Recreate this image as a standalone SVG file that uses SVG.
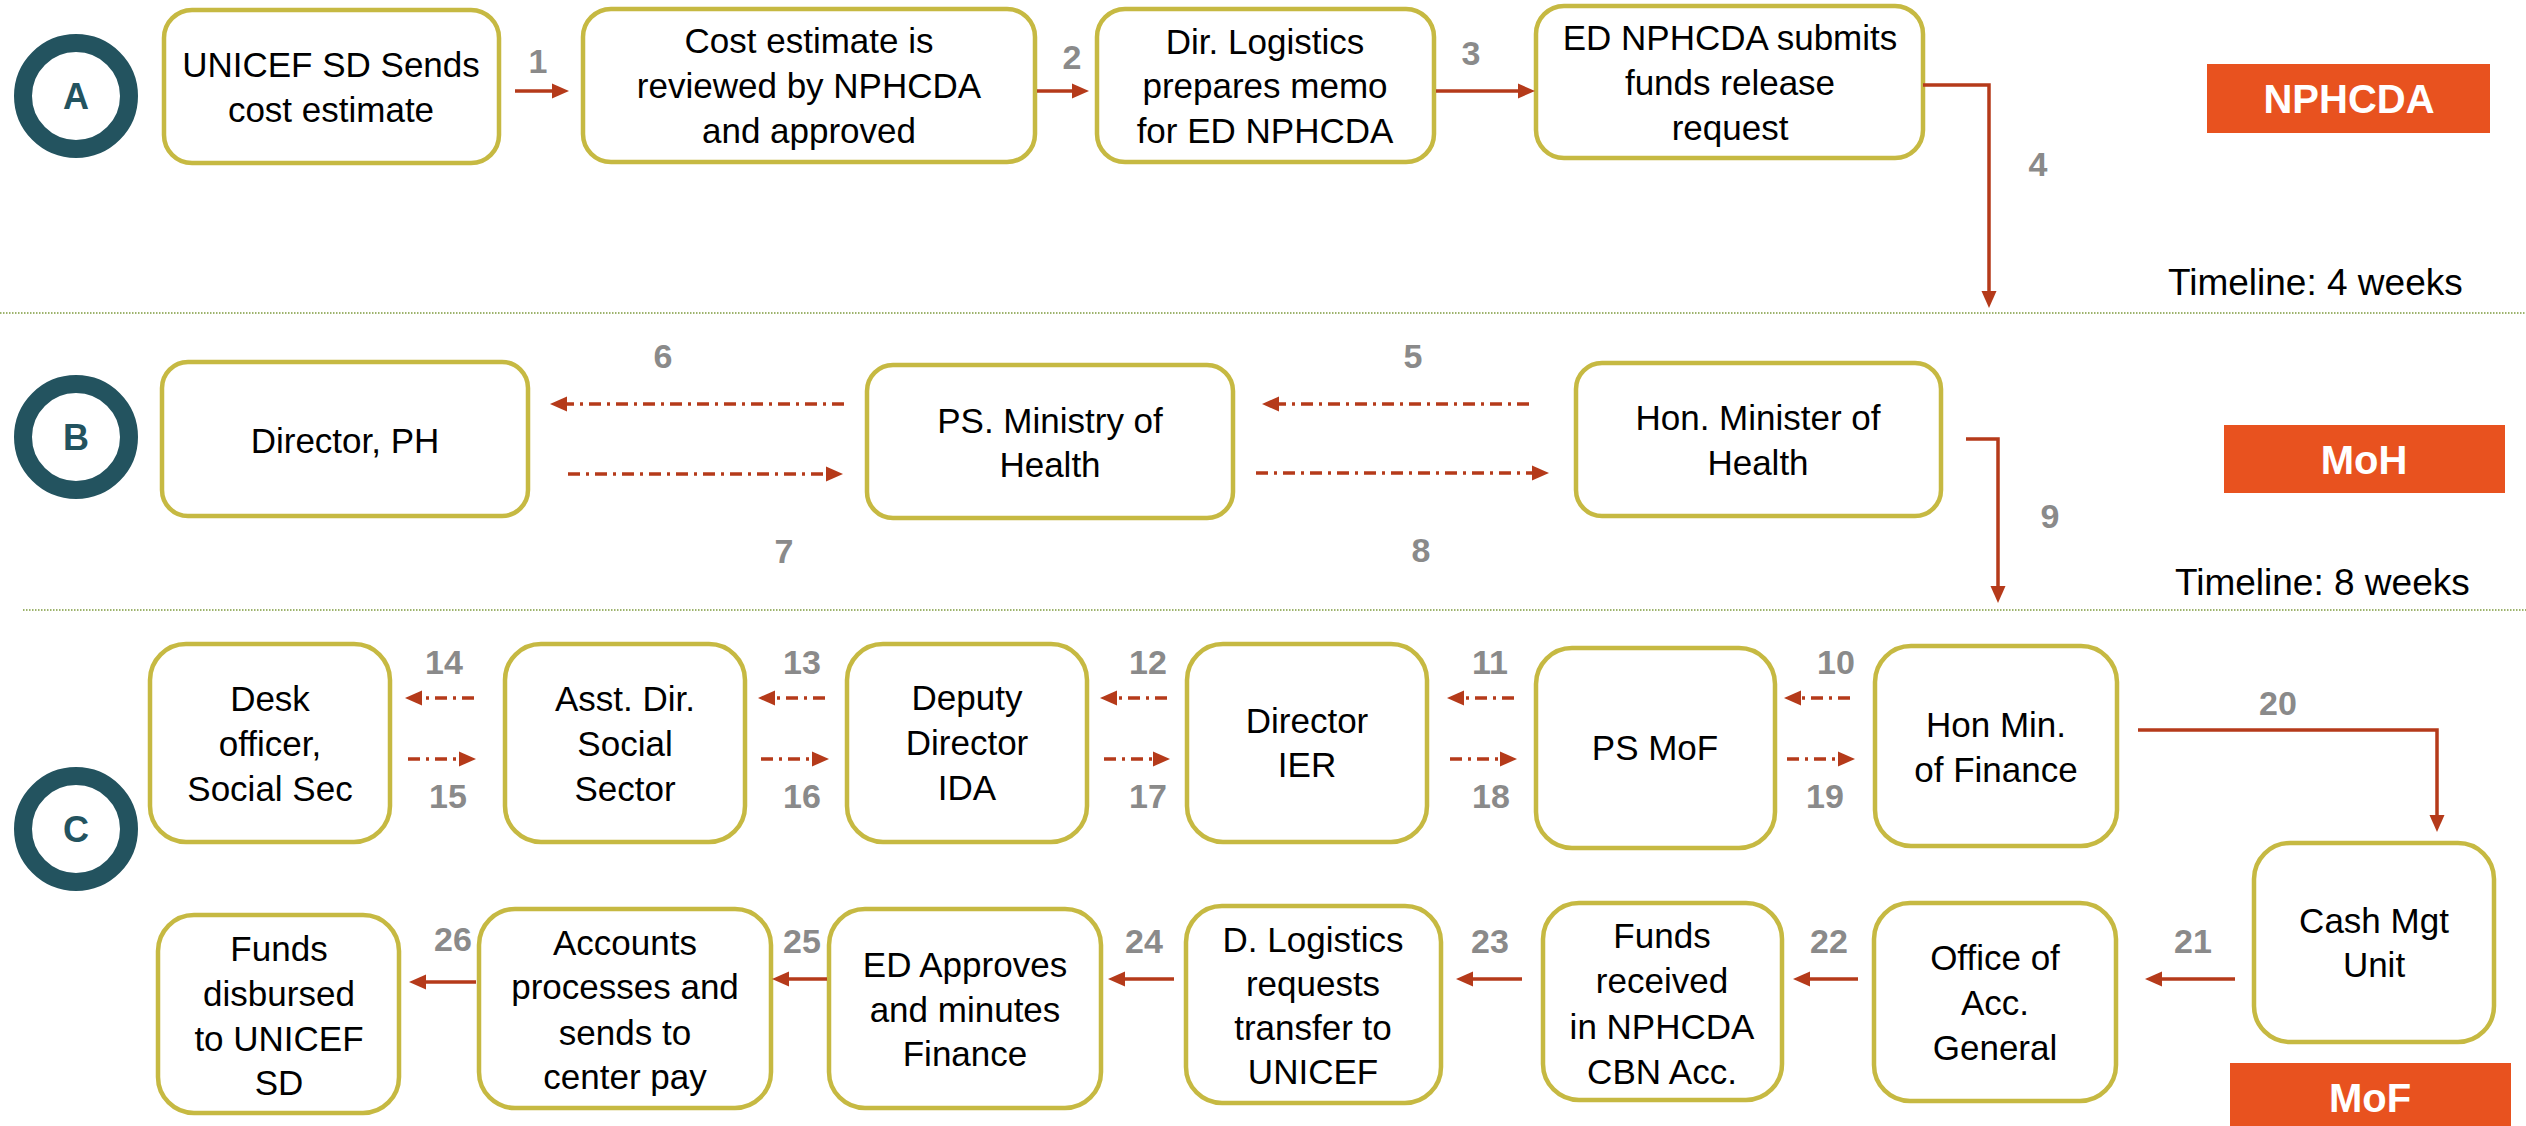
<svg xmlns="http://www.w3.org/2000/svg" width="2526" height="1126" viewBox="0 0 2526 1126">
<style>
.box{fill:#fff;stroke:#C6B942;stroke-width:4.5}
.t{font-family:"Liberation Sans",Arial,sans-serif;font-size:35px;fill:#000;text-anchor:middle}
.num{font-family:"Liberation Sans",Arial,sans-serif;font-size:34px;font-weight:bold;fill:#8A8A8A;text-anchor:middle}
.ring{fill:none;stroke:#23535F;stroke-width:18}
.letter{font-family:"Liberation Sans",Arial,sans-serif;font-size:36px;font-weight:bold;fill:#23535F;text-anchor:middle}
.tag{fill:#E8521F}
.tagt{font-family:"Liberation Sans",Arial,sans-serif;font-size:40px;font-weight:bold;fill:#fff;text-anchor:middle}
.tl{font-family:"Liberation Sans",Arial,sans-serif;font-size:37px;fill:#000}
.div{stroke:#7E9B3E;stroke-width:1.5;stroke-dasharray:1.5 1.5;fill:none}
.c{stroke:#B53A1A;stroke-width:3.5;fill:none;marker-end:url(#ah)}
.d{stroke:#B53A1A;stroke-width:3.5;fill:none;stroke-dasharray:12 6 3 6;marker-end:url(#ah)}
</style>
<defs>
<marker id="ah" markerUnits="userSpaceOnUse" markerWidth="18" markerHeight="16" refX="3" refY="8" orient="auto">
<path d="M0,0.5 L17,8 L0,15.5 z" fill="#B53A1A"/>
</marker>
</defs>
<rect width="2526" height="1126" fill="#fff"/>
<g id="dividers">
<line class="div" x1="0" y1="313" x2="2526" y2="313"/>
<line class="div" x1="23" y1="610" x2="2526" y2="610"/>
</g>
<g id="lane-A">
<circle class="ring" cx="76" cy="96" r="53"/>
<text class="letter" x="76" y="109">A</text>
</g>
<g id="lane-B">
<circle class="ring" cx="76" cy="437" r="53"/>
<text class="letter" x="76" y="450">B</text>
</g>
<g id="lane-C">
<circle class="ring" cx="76" cy="829" r="53"/>
<text class="letter" x="76" y="842">C</text>
</g>
<g id="tag-nphcda">
<rect class="tag" x="2207" y="64" width="283" height="69"/>
<text class="tagt" x="2349" y="113">NPHCDA</text>
<text class="tl" x="2168" y="295">Timeline: 4 weeks</text>
</g>
<g id="tag-moh">
<rect class="tag" x="2224" y="425" width="281" height="68"/>
<text class="tagt" x="2364" y="474">MoH</text>
<text class="tl" x="2175" y="595">Timeline: 8 weeks</text>
</g>
<g id="tag-mof">
<rect class="tag" x="2230" y="1063" width="281" height="63"/>
<text class="tagt" x="2370" y="1112">MoF</text>
</g>
<g id="n1">
<rect class="box" x="164" y="10" width="335" height="153" rx="28"/>
<text class="t" x="331" y="77">UNICEF SD Sends</text>
<text class="t" x="331" y="122">cost estimate</text>
</g>
<g id="n2">
<rect class="box" x="583" y="9" width="452" height="153" rx="28"/>
<text class="t" x="809" y="53">Cost estimate is</text>
<text class="t" x="809" y="98">reviewed by NPHCDA</text>
<text class="t" x="809" y="143">and approved</text>
</g>
<g id="n3">
<rect class="box" x="1097" y="9" width="337" height="153" rx="28"/>
<text class="t" x="1265" y="54">Dir. Logistics</text>
<text class="t" x="1265" y="98">prepares memo</text>
<text class="t" x="1265" y="143">for ED NPHCDA</text>
</g>
<g id="n4">
<rect class="box" x="1536" y="6" width="387" height="152" rx="28"/>
<text class="t" x="1730" y="50">ED NPHCDA submits</text>
<text class="t" x="1730" y="95">funds release</text>
<text class="t" x="1730" y="140">request</text>
</g>
<g id="n5">
<rect class="box" x="162" y="362" width="366" height="154" rx="26"/>
<text class="t" x="345" y="453">Director, PH</text>
</g>
<g id="n6">
<rect class="box" x="867" y="365" width="366" height="153" rx="26"/>
<text class="t" x="1050" y="433">PS. Ministry of</text>
<text class="t" x="1050" y="477">Health</text>
</g>
<g id="n7">
<rect class="box" x="1576" y="363" width="365" height="153" rx="26"/>
<text class="t" x="1758" y="430">Hon. Minister of</text>
<text class="t" x="1758" y="475">Health</text>
</g>
<g id="n8">
<rect class="box" x="150" y="644" width="240" height="198" rx="36"/>
<text class="t" x="270" y="711">Desk</text>
<text class="t" x="270" y="756">officer,</text>
<text class="t" x="270" y="801">Social Sec</text>
</g>
<g id="n9">
<rect class="box" x="505" y="644" width="240" height="198" rx="36"/>
<text class="t" x="625" y="711">Asst. Dir.</text>
<text class="t" x="625" y="756">Social</text>
<text class="t" x="625" y="801">Sector</text>
</g>
<g id="n10">
<rect class="box" x="847" y="644" width="240" height="198" rx="36"/>
<text class="t" x="967" y="710">Deputy</text>
<text class="t" x="967" y="755">Director</text>
<text class="t" x="967" y="800">IDA</text>
</g>
<g id="n11">
<rect class="box" x="1187" y="644" width="240" height="198" rx="36"/>
<text class="t" x="1307" y="733">Director</text>
<text class="t" x="1307" y="777">IER</text>
</g>
<g id="n12">
<rect class="box" x="1536" y="648" width="239" height="200" rx="36"/>
<text class="t" x="1655" y="760">PS MoF</text>
</g>
<g id="n13">
<rect class="box" x="1875" y="646" width="242" height="200" rx="36"/>
<text class="t" x="1996" y="737">Hon Min.</text>
<text class="t" x="1996" y="782">of Finance</text>
</g>
<g id="n14">
<rect class="box" x="2254" y="843" width="240" height="199" rx="36"/>
<text class="t" x="2374" y="933">Cash Mgt</text>
<text class="t" x="2374" y="977">Unit</text>
</g>
<g id="n15">
<rect class="box" x="1874" y="903" width="242" height="198" rx="36"/>
<text class="t" x="1995" y="970">Office of</text>
<text class="t" x="1995" y="1015">Acc.</text>
<text class="t" x="1995" y="1060">General</text>
</g>
<g id="n16">
<rect class="box" x="1543" y="903" width="239" height="197" rx="36"/>
<text class="t" x="1662" y="948">Funds</text>
<text class="t" x="1662" y="993">received</text>
<text class="t" x="1662" y="1039">in NPHCDA</text>
<text class="t" x="1662" y="1084">CBN Acc.</text>
</g>
<g id="n17">
<rect class="box" x="1186" y="906" width="255" height="197" rx="36"/>
<text class="t" x="1313" y="952">D. Logistics</text>
<text class="t" x="1313" y="996">requests</text>
<text class="t" x="1313" y="1040">transfer to</text>
<text class="t" x="1313" y="1084">UNICEF</text>
</g>
<g id="n18">
<rect class="box" x="829" y="909" width="272" height="199" rx="36"/>
<text class="t" x="965" y="977">ED Approves</text>
<text class="t" x="965" y="1022">and minutes</text>
<text class="t" x="965" y="1066">Finance</text>
</g>
<g id="n19">
<rect class="box" x="479" y="909" width="292" height="199" rx="36"/>
<text class="t" x="625" y="955">Accounts</text>
<text class="t" x="625" y="999">processes and</text>
<text class="t" x="625" y="1045">sends to</text>
<text class="t" x="625" y="1089">center pay</text>
</g>
<g id="n20">
<rect class="box" x="158" y="915" width="241" height="198" rx="36"/>
<text class="t" x="279" y="961">Funds</text>
<text class="t" x="279" y="1006">disbursed</text>
<text class="t" x="279" y="1051">to UNICEF</text>
<text class="t" x="279" y="1095">SD</text>
</g>
<g id="connectors">
<line class="c" x1="515" y1="91" x2="555" y2="91"/>
<line class="c" x1="1037" y1="91" x2="1075" y2="91"/>
<line class="c" x1="1436" y1="91" x2="1521" y2="91"/>
<polyline class="c" points="1923,85 1989,85 1989,294"/>
<line class="d" x1="1529" y1="404" x2="1276" y2="404"/>
<line class="d" x1="844" y1="404" x2="564" y2="404"/>
<line class="d" x1="568" y1="474" x2="829" y2="474"/>
<line class="d" x1="1256" y1="473" x2="1535" y2="473"/>
<polyline class="c" points="1966,439 1998,439 1998,589"/>
<line class="d" x1="1850" y1="698" x2="1798" y2="698"/>
<line class="d" x1="1514" y1="698" x2="1461" y2="698"/>
<line class="d" x1="1167" y1="698" x2="1114" y2="698"/>
<line class="d" x1="825" y1="698" x2="772" y2="698"/>
<line class="d" x1="474" y1="698" x2="419" y2="698"/>
<line class="d" x1="408" y1="759" x2="462" y2="759"/>
<line class="d" x1="761" y1="759" x2="815" y2="759"/>
<line class="d" x1="1104" y1="759" x2="1156" y2="759"/>
<line class="d" x1="1450" y1="759" x2="1503" y2="759"/>
<line class="d" x1="1787" y1="759" x2="1841" y2="759"/>
<polyline class="c" points="2138,730 2437,730 2437,818"/>
<line class="c" x1="2235" y1="979" x2="2159" y2="979"/>
<line class="c" x1="1858" y1="979" x2="1807" y2="979"/>
<line class="c" x1="1522" y1="979" x2="1470" y2="979"/>
<line class="c" x1="1174" y1="979" x2="1122" y2="979"/>
<line class="c" x1="827" y1="979" x2="786" y2="979"/>
<line class="c" x1="476" y1="982" x2="423" y2="982"/>
<text class="num" x="538" y="73">1</text>
<text class="num" x="1072" y="69">2</text>
<text class="num" x="1471" y="65">3</text>
<text class="num" x="2038" y="176">4</text>
<text class="num" x="1413" y="368">5</text>
<text class="num" x="663" y="368">6</text>
<text class="num" x="784" y="563">7</text>
<text class="num" x="1421" y="562">8</text>
<text class="num" x="2050" y="528">9</text>
<text class="num" x="1836" y="674">10</text>
<text class="num" x="1490" y="674">11</text>
<text class="num" x="1148" y="674">12</text>
<text class="num" x="802" y="674">13</text>
<text class="num" x="444" y="674">14</text>
<text class="num" x="448" y="808">15</text>
<text class="num" x="802" y="808">16</text>
<text class="num" x="1148" y="808">17</text>
<text class="num" x="1491" y="808">18</text>
<text class="num" x="1825" y="808">19</text>
<text class="num" x="2278" y="715">20</text>
<text class="num" x="2193" y="953">21</text>
<text class="num" x="1829" y="953">22</text>
<text class="num" x="1490" y="953">23</text>
<text class="num" x="1144" y="953">24</text>
<text class="num" x="802" y="953">25</text>
<text class="num" x="453" y="951">26</text>
</g>
</svg>
